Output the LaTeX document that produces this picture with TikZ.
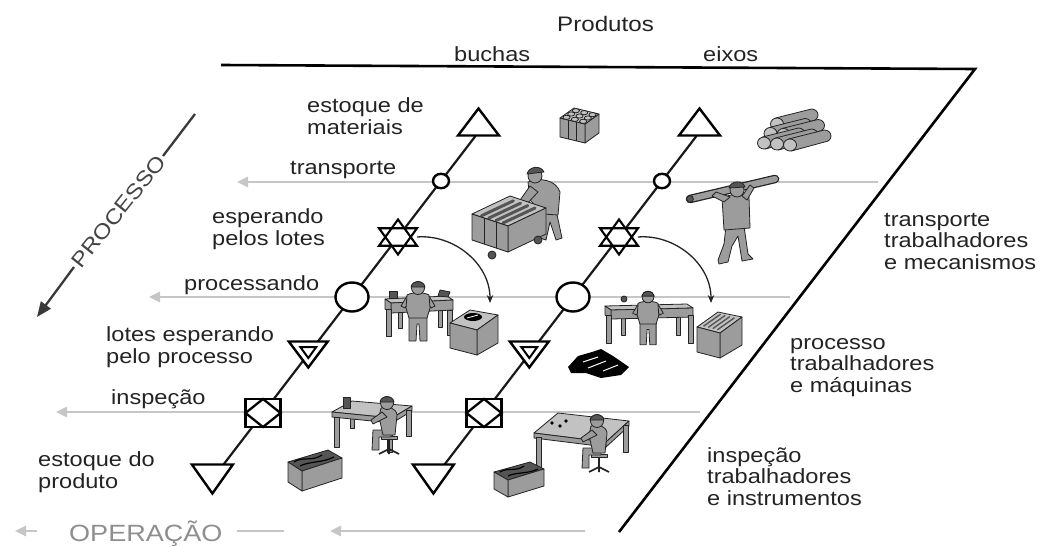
\documentclass[tikz,border=0pt]{standalone}
\usepackage{fontspec}
\setmainfont{Liberation Sans}[FakeStretch=1.15]
\usetikzlibrary{arrows.meta,backgrounds}

\definecolor{ink}{HTML}{232323}
\definecolor{flowgray}{HTML}{C6C6C6}
\definecolor{opgray}{HTML}{8E8E8E}
\definecolor{cgray}{HTML}{9C9C9C}
\definecolor{clight}{HTML}{C2C2C2}
\definecolor{cdark}{HTML}{555555}

\tikzset{
  frame/.style={draw=black, line width=2.6pt, line join=miter},
  colline/.style={draw=black!90, line width=2.2pt},
  flow/.style={draw=flowgray, line width=2.5pt, -{Triangle[length=11pt,width=10pt]}},
  flowplain/.style={draw=flowgray, line width=2.5pt},
  sym/.style={draw=black, line width=2.4pt, fill=white, line join=miter},
  bendarrow/.style={draw=ink, line width=1.3pt, -{Stealth[length=8pt,width=6.5pt]}},
  % multi-line labels: the base anchor sits on the last line
  lbl/.style={font=\fontsize{20.5}{21.5}\selectfont, text=ink, inner sep=0pt, align=left, anchor=base west},
  head/.style={font=\fontsize{20.5}{21.5}\selectfont, text=ink, inner sep=0pt, anchor=base west},
  cl/.style={fill=cgray, draw=ink, line width=0.8pt, line join=round, line cap=round},
  cll/.style={cl, fill=clight},
  cld/.style={cl, fill=cdark},
  % flow symbols
  matstock/.pic={\path[sym] (-20.5,13.5) -- (20.5,13.5) -- (0,-13.5) -- cycle;},
  movedot/.pic={\path[sym] (0,0) ellipse [x radius=8, y radius=7.2];},
  waitstar/.pic={
    \fill[white] (0,-17.5) -- (19,8.75) -- (-19,8.75) -- cycle;
    \fill[white] (0,17.5) -- (19,-8.75) -- (-19,-8.75) -- cycle;
    \draw[line width=2.1pt, line join=miter] (0,-17.5) -- (19,8.75) -- (-19,8.75) -- cycle
      (0,17.5) -- (19,-8.75) -- (-19,-8.75) -- cycle;},
  workdisk/.pic={\path[sym] (0,0) ellipse [x radius=16.5, y radius=14.5];},
  lotwait/.pic={\path[sym] (-19.5,-12.5) -- (19.5,-12.5) -- (0,13.5) -- cycle;
    \draw[line width=2pt, line join=miter] (-8,-7) -- (8,-7) -- (0,4) -- cycle;},
  checkbox/.pic={\path[sym] (-17.5,-14) rectangle (17.5,14);
    \draw[line width=2.3pt, line join=miter] (0,-14) -- (17.5,0) -- (0,14) -- (-17.5,0) -- cycle;},
  prodstock/.pic={\path[sym] (-20.5,-14.5) -- (20.5,-14.5) -- (0,14.5) -- cycle;},
  % workers
  standworker/.pic={
    \path[cl] (-9,28) -- (9,28) -- (9,53) -- (2,53) -- (1,36) -- (-1,36) -- (-2,53) -- (-9,53) -- cycle;
    \path[cl] (-11,8) -- (-17,18) -- (-13,20) -- (-8,12) -- cycle;
    \path[cl] (11,8) -- (17,18) -- (13,20) -- (8,12) -- cycle;
    \path[cl] (-11,7) .. controls (-6,4) and (6,4) .. (11,7) -- (12,20) -- (9,30) -- (-9,30) -- (-12,20) -- cycle;
    \path[cl] (0,0) circle (6.5);
    \path[cld] (-7,-1) .. controls (-6,-8) and (6,-8) .. (7,-1) -- cycle;},
  seatworker/.pic={
    \draw[ink, line width=1.6pt] (2,35) -- (2,46) (-8,51) -- (2,46) -- (12,51) (2,46) -- (2,51);
    \path[cl] (-6,33) rectangle (10,36);
    \path[cl] (-14,27) -- (4,27) -- (4,34) -- (-8,34) -- (-8,47) -- (-15,47) -- cycle;
    \path[cl] (-6,5) .. controls (2,3) and (9,5) .. (10,12) -- (8,32) -- (-4,32) -- (-8,14) -- cycle;
    \path[cl] (-5,9) -- (-16,17) -- (-14,21) -- (0,14) -- cycle;
    \path[cl] (0,0) circle (6.5);
    \path[cld] (-7,-1) .. controls (-6,-8) and (6,-8) .. (7,-1) -- cycle;},
}

\begin{document}
\begin{tikzpicture}[x=1pt,y=-1pt]
\useasboundingbox (0,0) rectangle (1054,546);

% ---------- anchor points ----------
% outline of the product field
\coordinate (fA) at (221,65);
\coordinate (fB) at (975,69);
\coordinate (fC) at (619,532);
% column "buchas"
\coordinate (bT) at (478.5,122);
\coordinate (bTb) at (475.5,136);
\coordinate (bM) at (441,181);
\coordinate (bS) at (398,237);
\coordinate (bP) at (352,297);
\coordinate (bL) at (308.3,354);
\coordinate (bI) at (263,413);
\coordinate (bF) at (212.4,479);
\coordinate (bArr) at (490,303);
% column "eixos"
\coordinate (eT) at (699.5,122);
\coordinate (eTb) at (696.5,136);
\coordinate (eM) at (662,181);
\coordinate (eS) at (619,237);
\coordinate (eP) at (573,297);
\coordinate (eL) at (529.3,354);
\coordinate (eI) at (484,413);
\coordinate (eF) at (433.4,479);
\coordinate (eArr) at (711,303);
% operation flows
\coordinate (tr1) at (878,182);  \coordinate (tl1) at (237,182);
\coordinate (tr2) at (790,297);  \coordinate (tl2) at (149,297);
\coordinate (tr3) at (700,412);  \coordinate (tl3) at (56,412);
\coordinate (op1) at (37,531);   \coordinate (op0) at (15,531);
\coordinate (op2) at (237,531);  \coordinate (op3) at (284,531);
\coordinate (op4) at (585,531);  \coordinate (op5) at (330,531);
% process direction
\coordinate (pr1) at (195,114);  \coordinate (pr2) at (163,156);
\coordinate (pr3) at (74,267);   \coordinate (pr4) at (37,317);

% ---------- flows and column lines ----------
\begin{scope}[on background layer]
  \draw[flow] (tr1) -- (tl1);
  \draw[flow] (tr2) -- (tl2);
  \draw[flow] (tr3) -- (tl3);
  \draw[flow] (op1) -- (op0);
  \draw[flowplain] (op2) -- (op3);
  \draw[flow] (op4) -- (op5);
  \draw[colline] (bTb) -- (bF);
  \draw[colline] (eTb) -- (eF);
\end{scope}

% field outline
\draw[frame] (fA) -- (fB) -- (fC);

% process direction arrow
\draw[draw=ink!90, line width=2.3pt] (pr1) -- (pr2);
\draw[draw=ink!90, line width=2.3pt, -{Triangle[length=15pt,width=12pt]}] (pr3) -- (pr4);
\node[font=\fontsize{21}{21}\selectfont, text=ink!85, inner sep=0pt, rotate=51.5] (proc) at (118.5,211.5) {PROCESSO};

% ---------- stock of materials ----------
% bushings bundle
\path[cl] (585,124) -- (599,114) -- (599,133) -- (585,143) -- cycle;
\path[cl] (560,118) -- (585,124) -- (585,143) -- (560,137) -- cycle;
\draw[ink, line width=0.6pt] (568.3,120) -- (568.3,139) (576.6,122) -- (576.6,141);
\path[cll] (560,118) -- (585,124) -- (599,114) -- (574,108) -- cycle;
\foreach \i in {0,1,2} \foreach \j in {2,1,0}
  \path[cll] ({560+(\i+0.5)*8.33+(\j+0.5)*4.67},{118+(\i+0.5)*2-(\j+0.5)*3.33}) ellipse [x radius=3.6, y radius=2.1];
% log pile
\foreach \cx/\cy in {777/124, 770.5/133.5, 783.5/134.5, 764/143, 777/144, 790/145}{
  \path[cl] (\cx-1.5,\cy-6) -- (\cx+34.5,\cy-15) arc [start angle=-90, end angle=90, x radius=6.5, y radius=6] -- (\cx+1.5,\cy+6) -- cycle;
  \path[cll] (\cx,\cy) ellipse [x radius=6.5, y radius=6];
}

% ---------- transport ----------
% worker pushing a cart
\path[cl] (545,210) -- (556,210) -- (562,238) -- (556,240) -- (550,222) -- (546,240) -- (540,238) -- cycle;
\path[cl] (528,182) .. controls (540,177) and (556,180) .. (560,192) -- (558,215) -- (543,214) -- (530,200) -- cycle;
\path[cl] (530,186) -- (518,203) -- (524,207) -- (538,192) -- cycle;
\path[cl] (535,176) circle (7);
\path[cld] (527,174) .. controls (529,166) and (541,165) .. (544,172) -- cycle;
\path[cll] (472,214) -- (508,226) -- (546,208) -- (510,196) -- cycle;
\foreach \t in {0.15,0.35,0.55,0.75}
  \draw[cdark, line width=3pt, line cap=round] ({476+36*\t},{214+12*\t}) -- ({508+36*\t},{199+12*\t});
\path[cl] (508,226) -- (546,208) -- (546,234) -- (508,252) -- cycle;
\path[cl] (472,214) -- (508,226) -- (508,252) -- (472,240) -- cycle;
\draw[ink, line width=0.6pt] (484,218) -- (484,244) (496,222) -- (496,248);
\path[cld] (492,255) circle (4);
\path[cld] (538,240) circle (4);
% worker carrying a shaft
\path[cl] (726,226) -- (744,226) -- (748,254) -- (753,259) -- (742,261) -- (738,236) -- (732,246) -- (728,262) -- (719,264) -- (718,260) -- (724,244) -- cycle;
\path[cl] (722,198) .. controls (730,194) and (742,193) .. (749,197) -- (750,228) -- (724,230) -- cycle;
\draw[ink, line width=8.5pt, line cap=round] (690,199) -- (775,179);
\draw[cgray, line width=6pt, line cap=round] (690,199) -- (775,179);
\path[cld] (690,199) circle (3.4);
\path[cl] (724,202) -- (712,196) -- (716,192) -- (730,197) -- cycle;
\path[cl] (747,200) -- (754,188) -- (750,185) -- (742,196) -- cycle;
\path[cl] (737,190) circle (7);
\path[cld] (729,188) .. controls (731,180) and (743,180) .. (745,187) -- cycle;

% ---------- processing ----------
% bushings: bench, worker, machine
\path[cl] (398,305) rectangle (402,328);
\path[cl] (438,303) rectangle (442,327);
\path[cll] (385,299) -- (447,296) -- (453,300) -- (391,303) -- cycle;
\path[cl] (391,303) -- (453,300) -- (453,310) -- (391,313) -- cycle;
\path[cl] (385,299) -- (391,303) -- (391,313) -- (385,309) -- cycle;
\path[cl] (386,309) rectangle (391,336);
\path[cl] (447,310) rectangle (452,335);
\path[cld] (389,291) rectangle (397,298);
\path[cld] (440,290) -- (450,292) -- (448,297) -- (438,296) -- cycle;
\pic at (418,288) {standworker};
\path[cll] (450,323) -- (477,330) -- (498,315) -- (470,310) -- cycle;
\path[cl] (477,330) -- (498,315) -- (498,343) -- (477,355) -- cycle;
\path[cl] (450,323) -- (477,330) -- (477,355) -- (450,348) -- cycle;
\path[fill=black] (473,317) ellipse [x radius=9, y radius=4];
\draw[white, line width=0.8pt] (467,318) -- (478,315);
% shafts: bench, worker, cabinet, chips
\path[cl] (621,315) rectangle (625,335);
\path[cl] (676,315) rectangle (680,335);
\path[cll] (605,306) -- (687,304) -- (693,308) -- (611,310) -- cycle;
\path[cl] (611,310) -- (693,308) -- (693,317) -- (611,319) -- cycle;
\path[cl] (605,306) -- (611,310) -- (611,319) -- (605,315) -- cycle;
\path[cl] (606,315) rectangle (611,343);
\path[cl] (688,315) rectangle (693,343);
\path[cld] (624,299) circle (3);
\pic[scale=0.9] at (648,297) {standworker};
\path[cll] (697,327) -- (720,333) -- (742,317) -- (718,312) -- cycle;
\foreach \t in {0.2,0.4,0.6,0.8}
  \draw[cdark, line width=1.4pt] ({699+23*\t},{325+6*\t}) -- ({716+23*\t},{313+6*\t});
\path[cl] (720,333) -- (742,317) -- (742,345) -- (720,358) -- cycle;
\path[cl] (697,327) -- (720,333) -- (720,358) -- (697,352) -- cycle;
\path[fill=black] (568,367) -- (578,356) -- (592,352) -- (601,349) -- (613,356) -- (629,367) -- (621,375) -- (601,378) -- (586,373) -- (571,373) -- cycle;
\draw[white, line width=1pt] (583,362) -- (598,357) (588,368) -- (606,361) (603,371) -- (618,365);

% ---------- inspection ----------
% bushings: desk, seated inspector, finished parts box
\path[cl] (350,406) rectangle (354,428);
\path[cll] (332,412) -- (352,401) -- (412,406) -- (392,418) -- cycle;
\path[cl] (332,412) -- (392,418) -- (392,423) -- (332,417) -- cycle;
\path[cl] (392,418) -- (412,406) -- (412,411) -- (392,423) -- cycle;
\path[cl] (334,417) rectangle (339,447);
\path[cl] (406,410) rectangle (411,436);
\path[cl] (387,423) rectangle (392,452);
\path[cld] (343,397) rectangle (350,408);
\pic at (387,403) {seatworker};
\path[cld] (288,462) -- (328,450) -- (342,458) -- (302,471) -- cycle;
\draw[black, line width=1.2pt] (294,462) .. controls (302,456) and (312,462) .. (322,455) (300,466) .. controls (310,461) and (322,463) .. (334,457);
\path[cl] (302,471) -- (342,458) -- (342,478) -- (302,491) -- cycle;
\path[cl] (288,462) -- (302,471) -- (302,491) -- (288,482) -- cycle;
% shafts: desk, seated inspector, finished parts box
\path[cl] (558,416) rectangle (562,440);
\path[cll] (534,433) -- (558,413) -- (629,421) -- (606,442) -- cycle;
\path[cl] (534,433) -- (606,442) -- (606,447) -- (534,438) -- cycle;
\path[cl] (606,442) -- (629,421) -- (629,426) -- (606,447) -- cycle;
\path[cl] (536,437) rectangle (541,468);
\path[cl] (623,425) rectangle (628,452);
\foreach \dx/\dy in {552/423, 560/426, 566/421}
  \path[fill=black] (\dx,\dy) circle (1.8);
\pic at (597,421) {seatworker};
\path[cld] (494,472) -- (530,462) -- (544,469) -- (508,480) -- cycle;
\draw[black, line width=1.2pt] (500,472) .. controls (508,467) and (516,472) .. (524,466) (508,476) .. controls (516,472) and (528,474) .. (538,469);
\path[cl] (508,480) -- (544,469) -- (544,486) -- (508,497) -- cycle;
\path[cl] (494,472) -- (508,480) -- (508,497) -- (494,489) -- cycle;

% ---------- flow symbols ----------
\pic at (bT) {matstock};
\pic at (bM) {movedot};
\pic at (bS) {waitstar};
\pic at (bP) {workdisk};
\pic at (bL) {lotwait};
\pic at (bI) {checkbox};
\pic at (bF) {prodstock};
\pic at (eT) {matstock};
\pic at (eM) {movedot};
\pic at (eS) {waitstar};
\pic at (eP) {workdisk};
\pic at (eL) {lotwait};
\pic at (eI) {checkbox};
\pic at (eF) {prodstock};

% batches moved on to processing
\draw[bendarrow] ([xshift=19pt]bS) .. controls +(36,-3) and +(0,-40) .. (bArr);
\draw[bendarrow] ([xshift=19pt]eS) .. controls +(36,-3) and +(0,-40) .. (eArr);

% ---------- texts ----------
\node[head, font=\fontsize{21}{22}\selectfont] (tProd) at (557,31) {Produtos};
\node[head] (tBuch) at (454,61) {buchas};
\node[head] (tEix) at (703,61) {eixos};

\node[lbl] (tEst) at (307,134) {estoque de\\materiais};
\node[lbl] (tTra) at (290,174) {transporte};
\node[lbl] (tEsp) at (212,245) {esperando\\pelos lotes};
\node[lbl] (tPro) at (184,290) {processando};
\node[lbl] (tLot) at (106,363) {lotes esperando\\pelo processo};
\node[lbl] (tIns) at (111,404) {inspeção};
\node[lbl] (tEsP) at (38,488) {estoque do\\produto};

\node[lbl] (rTra) at (884,269) {transporte\\trabalhadores\\e mecanismos};
\node[lbl] (rPro) at (790,392) {processo\\trabalhadores\\e máquinas};
\node[lbl] (rIns) at (707,505) {inspeção\\trabalhadores\\e instrumentos};

\node[font=\fontsize{23.5}{24}\selectfont, text=opgray, inner sep=0pt, anchor=base west] (oper) at (69,541) {OPERAÇÃO};
\end{tikzpicture}
\end{document}
